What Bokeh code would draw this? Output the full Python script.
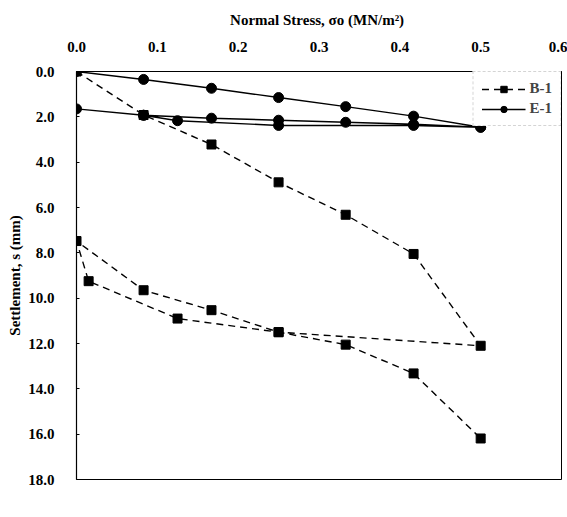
from bokeh.plotting import figure
from bokeh.models import Range1d, FixedTicker, NumeralTickFormatter, Legend, LegendItem
from bokeh.embed import file_html
from bokeh.resources import INLINE

# Plate load test: settlement vs. normal stress (load, unload, reload)
b1_stress = [0.0, 0.083, 0.167, 0.25, 0.333, 0.417, 0.5,
             0.25, 0.125, 0.015, 0.0,
             0.083, 0.167, 0.25, 0.333, 0.417, 0.5]
b1_settle = [0.0, 1.92, 3.22, 4.89, 6.32, 8.05, 12.1,
             11.5, 10.9, 9.25, 7.48,
             9.65, 10.53, 11.5, 12.05, 13.32, 16.19]

e1_stress = [0.0, 0.083, 0.167, 0.25, 0.333, 0.417, 0.5,
             0.417, 0.25, 0.125, 0.083, 0.0,
             0.083, 0.167, 0.25, 0.333, 0.417, 0.5]
e1_settle = [0.0, 0.35, 0.74, 1.15, 1.55, 1.97, 2.46,
             2.38, 2.38, 2.17, 1.93, 1.65,
             1.93, 2.06, 2.15, 2.24, 2.33, 2.46]

x_ticks = [0.0, 0.1, 0.2, 0.3, 0.4, 0.5, 0.6]
y_ticks = [0, 2, 4, 6, 8, 10, 12, 14, 16, 18]

FONT = "Liberation Serif"

p = figure(width=567, height=517, output_backend="svg", toolbar_location=None,
           x_range=Range1d(0, 0.6), y_range=Range1d(18, 0),
           x_axis_location="above")
p.min_border_left = 76
p.min_border_right = 6
p.min_border_top = 71
p.min_border_bottom = 38
p.grid.visible = False
p.outline_line_color = "black"
p.outline_line_width = 1
p.background_fill_color = "white"
p.border_fill_color = "white"

xa = p.xaxis[0]
xa.ticker = FixedTicker(ticks=x_ticks)
xa.formatter = NumeralTickFormatter(format="0.0")
xa.axis_label = "Normal Stress,  σo (MN/m²)"
xa.major_tick_in = 0
xa.major_tick_out = 0
xa.minor_tick_line_color = None
xa.major_label_standoff = 20
xa.axis_label_standoff = 11

ya = p.yaxis[0]
ya.ticker = FixedTicker(ticks=y_ticks)
ya.formatter = NumeralTickFormatter(format="0.0")
ya.axis_label = "Settlement, s (mm)"
ya.major_tick_in = 3
ya.major_tick_out = 0
ya.minor_tick_line_color = None
ya.major_label_standoff = 22
ya.axis_label_standoff = 2

for ax in (xa, ya):
    ax.axis_line_color = "black"
    ax.axis_line_width = 1.2
    ax.major_tick_line_color = "black"
    ax.major_label_text_font = FONT
    ax.major_label_text_font_style = "bold"
    ax.major_label_text_font_size = "15px"
    ax.major_label_text_color = "black"
    ax.axis_label_text_font = FONT
    ax.axis_label_text_font_style = "bold"
    ax.axis_label_text_font_size = "15px"
    ax.axis_label_text_color = "black"

b_line = p.line(b1_stress, b1_settle, line_color="black", line_width=1.4, line_dash="7 5")
b_mark = p.scatter(b1_stress, b1_settle, marker="square", size=9, fill_color="black",
                   line_color="black")
e_line = p.line(e1_stress, e1_settle, line_color="black", line_width=1.4)
e_mark = p.scatter(e1_stress, e1_settle, marker="circle", size=10, fill_color="black",
                   line_color="black")

legend = Legend(items=[LegendItem(label="B-1", renderers=[b_line, b_mark]),
                       LegendItem(label="E-1", renderers=[e_line, e_mark])],
                location="top_right")
legend.margin = 0
legend.padding = 8
legend.spacing = 3
legend.glyph_width = 44
legend.glyph_height = 16
legend.label_standoff = 4
legend.label_text_font = FONT
legend.label_text_font_style = "bold"
legend.label_text_font_size = "15px"
legend.border_line_color = "#aaaaaa"
legend.border_line_dash = "2 2"
legend.background_fill_color = "white"
legend.background_fill_alpha = 1
p.add_layout(legend)

open("out.html", "w").write(file_html(p, INLINE))
